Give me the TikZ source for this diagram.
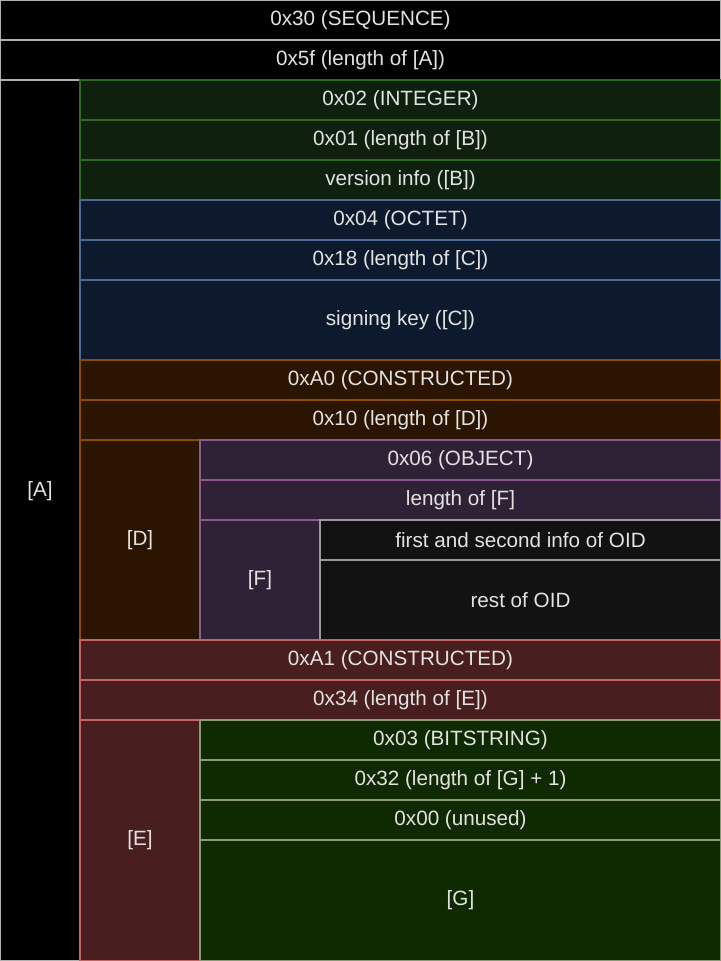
\documentclass[tikz,border=0pt]{standalone}
\usepackage{fontspec}
\setmainfont{Liberation Sans}
\definecolor{txtgray}{HTML}{E2E2E2}
\definecolor{seqline}{HTML}{B0B0B0}
\definecolor{intfill}{HTML}{0F200F}
\definecolor{intline}{HTML}{2F6A1F}
\definecolor{octfill}{HTML}{0D1A2D}
\definecolor{octline}{HTML}{4D6A95}
\definecolor{ctxfill}{HTML}{2B1400}
\definecolor{ctxline}{HTML}{8A4C00}
\definecolor{oidfill}{HTML}{2F2236}
\definecolor{oidline}{HTML}{8A5A91}
\definecolor{oidinfill}{HTML}{121212}
\definecolor{oidinline}{HTML}{9A9A9A}
\definecolor{ctxbfill}{HTML}{481E1E}
\definecolor{ctxbline}{HTML}{C46464}
\definecolor{bitfill}{HTML}{0F2A00}
\definecolor{bitline}{HTML}{8A9A78}
\tikzset{
  cell/.style 2 args={draw, rectangle, anchor=north west, inner sep=0pt, outer sep=0pt,
    line width=1pt, text=txtgray, font=\fontsize{15.5}{18}\selectfont,
    minimum width={#1*0.75pt}, minimum height={#2*0.75pt}},
  seqbox/.style={fill=black, draw=seqline},
  intbox/.style={fill=intfill, draw=intline},
  octbox/.style={fill=octfill, draw=octline},
  ctxbox/.style={fill=ctxfill, draw=ctxline},
  oidbox/.style={fill=oidfill, draw=oidline},
  oidinbox/.style={fill=oidinfill, draw=oidinline},
  ctxbbox/.style={fill=ctxbfill, draw=ctxbline},
  bitbox/.style={fill=bitfill, draw=bitline}
}
\begin{document}
\begin{tikzpicture}[x=0.75pt, y=-0.75pt]
  \useasboundingbox[fill=black] (0,0) rectangle (721,961);
  % outer sequence
  \node[cell={721}{40}, seqbox] (seq) at (0,0) {0x30 (SEQUENCE)};
  \node[cell={721}{40}, seqbox] (seqlen) at (0,40) {0x5f (length of [A])};
  \node[cell={80}{881}, seqbox, label={[text=txtgray, font=\fontsize{15.5}{18}\selectfont, yshift=22pt]center:[A]}] (A) at (0,80) {};
  % integer
  \node[cell={641}{40}, intbox] (int) at (80,80) {0x02 (INTEGER)};
  \node[cell={641}{40}, intbox] (intlen) at (80,120) {0x01 (length of [B])};
  \node[cell={641}{40}, intbox] (B) at (80,160) {version info ([B])};
  % octet string
  \node[cell={641}{40}, octbox] (oct) at (80,200) {0x04 (OCTET)};
  \node[cell={641}{40}, octbox] (octlen) at (80,240) {0x18 (length of [C])};
  \node[cell={641}{80}, octbox] (C) at (80,280) {signing key ([C])};
  % constructed 0
  \node[cell={641}{40}, ctxbox] (ctx) at (80,360) {0xA0 (CONSTRUCTED)};
  \node[cell={641}{40}, ctxbox] (ctxlen) at (80,400) {0x10 (length of [D])};
  \node[cell={120}{200}, ctxbox] (D) at (80,440) {[D]};
  \node[cell={521}{40}, oidbox] (oid) at (200,440) {0x06 (OBJECT)};
  \node[cell={521}{40}, oidbox] (oidlen) at (200,480) {length of [F]};
  \node[cell={120}{120}, oidbox] (F) at (200,520) {[F]};
  \node[cell={401}{40}, oidinbox] (oidfirst) at (320,520) {first and second info of OID};
  \node[cell={401}{80}, oidinbox] (oidrest) at (320,560) {rest of OID};
  % constructed 1
  \node[cell={641}{40}, ctxbbox] (ctxb) at (80,640) {0xA1 (CONSTRUCTED)};
  \node[cell={641}{40}, ctxbbox] (ctxblen) at (80,680) {0x34 (length of [E])};
  \node[cell={120}{241}, ctxbbox] (E) at (80,720) {[E]};
  \node[cell={521}{40}, bitbox] (bit) at (200,720) {0x03 (BITSTRING)};
  \node[cell={521}{40}, bitbox] (bitlen) at (200,760) {0x32 (length of [G] + 1)};
  \node[cell={521}{40}, bitbox] (unused) at (200,800) {0x00 (unused)};
  \node[cell={521}{121}, bitbox] (G) at (200,840) {[G]};
\end{tikzpicture}
\end{document}
